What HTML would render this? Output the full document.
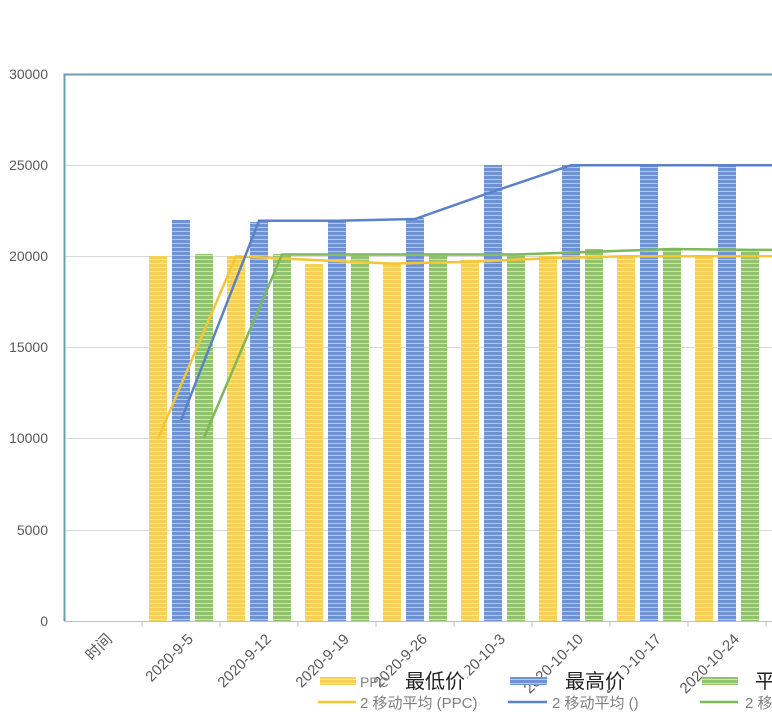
<!DOCTYPE html>
<html><head><meta charset="utf-8"><style>
body{margin:0;background:#fff;}
svg{display:block;font-family:"Liberation Sans","Noto Sans CJK SC",sans-serif;}
</style></head><body>
<svg width="772" height="714" viewBox="0 0 772 714">
<defs>
<pattern id="py" width="4" height="4" patternUnits="userSpaceOnUse"><rect width="4" height="4" fill="#f7cf55"/><rect y="3" width="4" height="1" fill="#fbe6a6"/></pattern>
<pattern id="pb" width="4" height="4" patternUnits="userSpaceOnUse"><rect width="4" height="4" fill="#6f92d4"/><rect y="3" width="4" height="1" fill="#b6c9ec"/></pattern>
<pattern id="pg" width="4" height="4" patternUnits="userSpaceOnUse"><rect width="4" height="4" fill="#93c26e"/><rect y="3" width="4" height="1" fill="#cbe3b8"/></pattern>
</defs>
<g stroke="#d9d9d9" stroke-width="1">
<line x1="64" y1="165.5" x2="772" y2="165.5"/><line x1="64" y1="256.5" x2="772" y2="256.5"/><line x1="64" y1="347.5" x2="772" y2="347.5"/><line x1="64" y1="438.5" x2="772" y2="438.5"/><line x1="64" y1="530.5" x2="772" y2="530.5"/>
</g>
<g font-size="14" fill="#595959" text-anchor="end">
<text x="48" y="79">30000</text><text x="48" y="170">25000</text><text x="48" y="261">20000</text><text x="48" y="352">15000</text><text x="48" y="443">10000</text><text x="48" y="535">5000</text><text x="48" y="626">0</text>
</g>
<g fill="url(#py)">
<rect x="149" y="256" width="18" height="365"/><rect x="227" y="256" width="18" height="365"/><rect x="305" y="264" width="18" height="357"/><rect x="383" y="264" width="18" height="357"/><rect x="461" y="260" width="18" height="361"/><rect x="539" y="256" width="18" height="365"/><rect x="617" y="256" width="18" height="365"/><rect x="695" y="256" width="18" height="365"/>
</g>
<g fill="url(#pb)">
<rect x="172" y="220" width="18" height="401"/><rect x="250" y="222" width="18" height="399"/><rect x="328" y="220" width="18" height="401"/><rect x="406" y="218" width="18" height="403"/><rect x="484" y="165" width="18" height="456"/><rect x="562" y="165" width="18" height="456"/><rect x="640" y="165" width="18" height="456"/><rect x="718" y="165" width="18" height="456"/>
</g>
<g fill="url(#pg)">
<rect x="195" y="254" width="18" height="367"/><rect x="273" y="254" width="18" height="367"/><rect x="351" y="254" width="18" height="367"/><rect x="429" y="254" width="18" height="367"/><rect x="507" y="254" width="18" height="367"/><rect x="585" y="249" width="18" height="372"/><rect x="663" y="249" width="18" height="372"/><rect x="741" y="251" width="18" height="370"/>
</g>
<g fill="none" stroke-width="2.5">
<polyline stroke="#f5c533" points="158,438.7 236,256.3 314,260 392,263.6 470,261.8 548,258.2 626,256.3 704,256.3 782,256.3"/>
<polyline stroke="#5b82c9" points="181,420.4 259,220.8 337,220.8 415,219 493,191.6 571,165.2 649,165.2 727,165.2 805,165.2"/>
<polyline stroke="#7db95a" points="204,437.8 282,254.5 360,254.5 438,254.5 516,254.5 594,251.8 672,249 750,249.9 828,249.9"/>
</g>
<line x1="64" y1="621.5" x2="772" y2="621.5" stroke="#bfbfbf"/>
<g stroke="#bfbfbf"><line x1="142" y1="621" x2="142" y2="627"/><line x1="220" y1="621" x2="220" y2="627"/><line x1="298" y1="621" x2="298" y2="627"/><line x1="376" y1="621" x2="376" y2="627"/><line x1="454" y1="621" x2="454" y2="627"/><line x1="532" y1="621" x2="532" y2="627"/><line x1="610" y1="621" x2="610" y2="627"/><line x1="688" y1="621" x2="688" y2="627"/><line x1="766" y1="621" x2="766" y2="627"/></g>
<path d="M64.5 621 V74.5 H772" fill="none" stroke="#6f9dad" stroke-width="2"/>
<g font-size="15" fill="#595959" text-anchor="end">
<text transform="translate(113,640) rotate(-45)">时间</text>
<text transform="translate(194,640) rotate(-45)">2020-9-5</text>
<text transform="translate(272,640) rotate(-45)">2020-9-12</text>
<text transform="translate(350,640) rotate(-45)">2020-9-19</text>
<text transform="translate(428,640) rotate(-45)">2020-9-26</text>
<text transform="translate(506,640) rotate(-45)">2020-10-3</text>
<text transform="translate(584,640) rotate(-45)">2020-10-10</text>
<text transform="translate(662,640) rotate(-45)">2020-10-17</text>
<text transform="translate(740,640) rotate(-45)">2020-10-24</text>
</g>
<g fill="#fff"><rect x="405" y="668" width="62" height="22"/><rect x="565" y="668" width="62" height="22"/><rect x="360" y="693" width="125" height="18"/><rect x="552" y="693" width="92" height="18"/></g>
<rect x="320" y="677" width="36" height="8" fill="url(#py)"/>
<rect x="510" y="677" width="37" height="8" fill="url(#pb)"/>
<rect x="702" y="677" width="36" height="8" fill="url(#pg)"/>
<g font-size="14" fill="#7f7f7f"><text x="360" y="687">PPC</text></g>
<g font-size="20" fill="#222"><text x="405" y="688">最低价</text><text x="565" y="688">最高价</text><text x="755" y="688">平</text></g>
<line x1="318" y1="702" x2="356" y2="702" stroke="#f5c533" stroke-width="2.5"/>
<line x1="508" y1="702" x2="547" y2="702" stroke="#5b82c9" stroke-width="2.5"/>
<line x1="700" y1="702" x2="738" y2="702" stroke="#7db95a" stroke-width="2.5"/>
<g font-size="15" fill="#7f7f7f"><text x="360" y="708">2 移动平均 (PPC)</text><text x="552" y="708">2 移动平均 ()</text><text x="745" y="708">2 移动平均</text></g>
</svg>
</body></html>
